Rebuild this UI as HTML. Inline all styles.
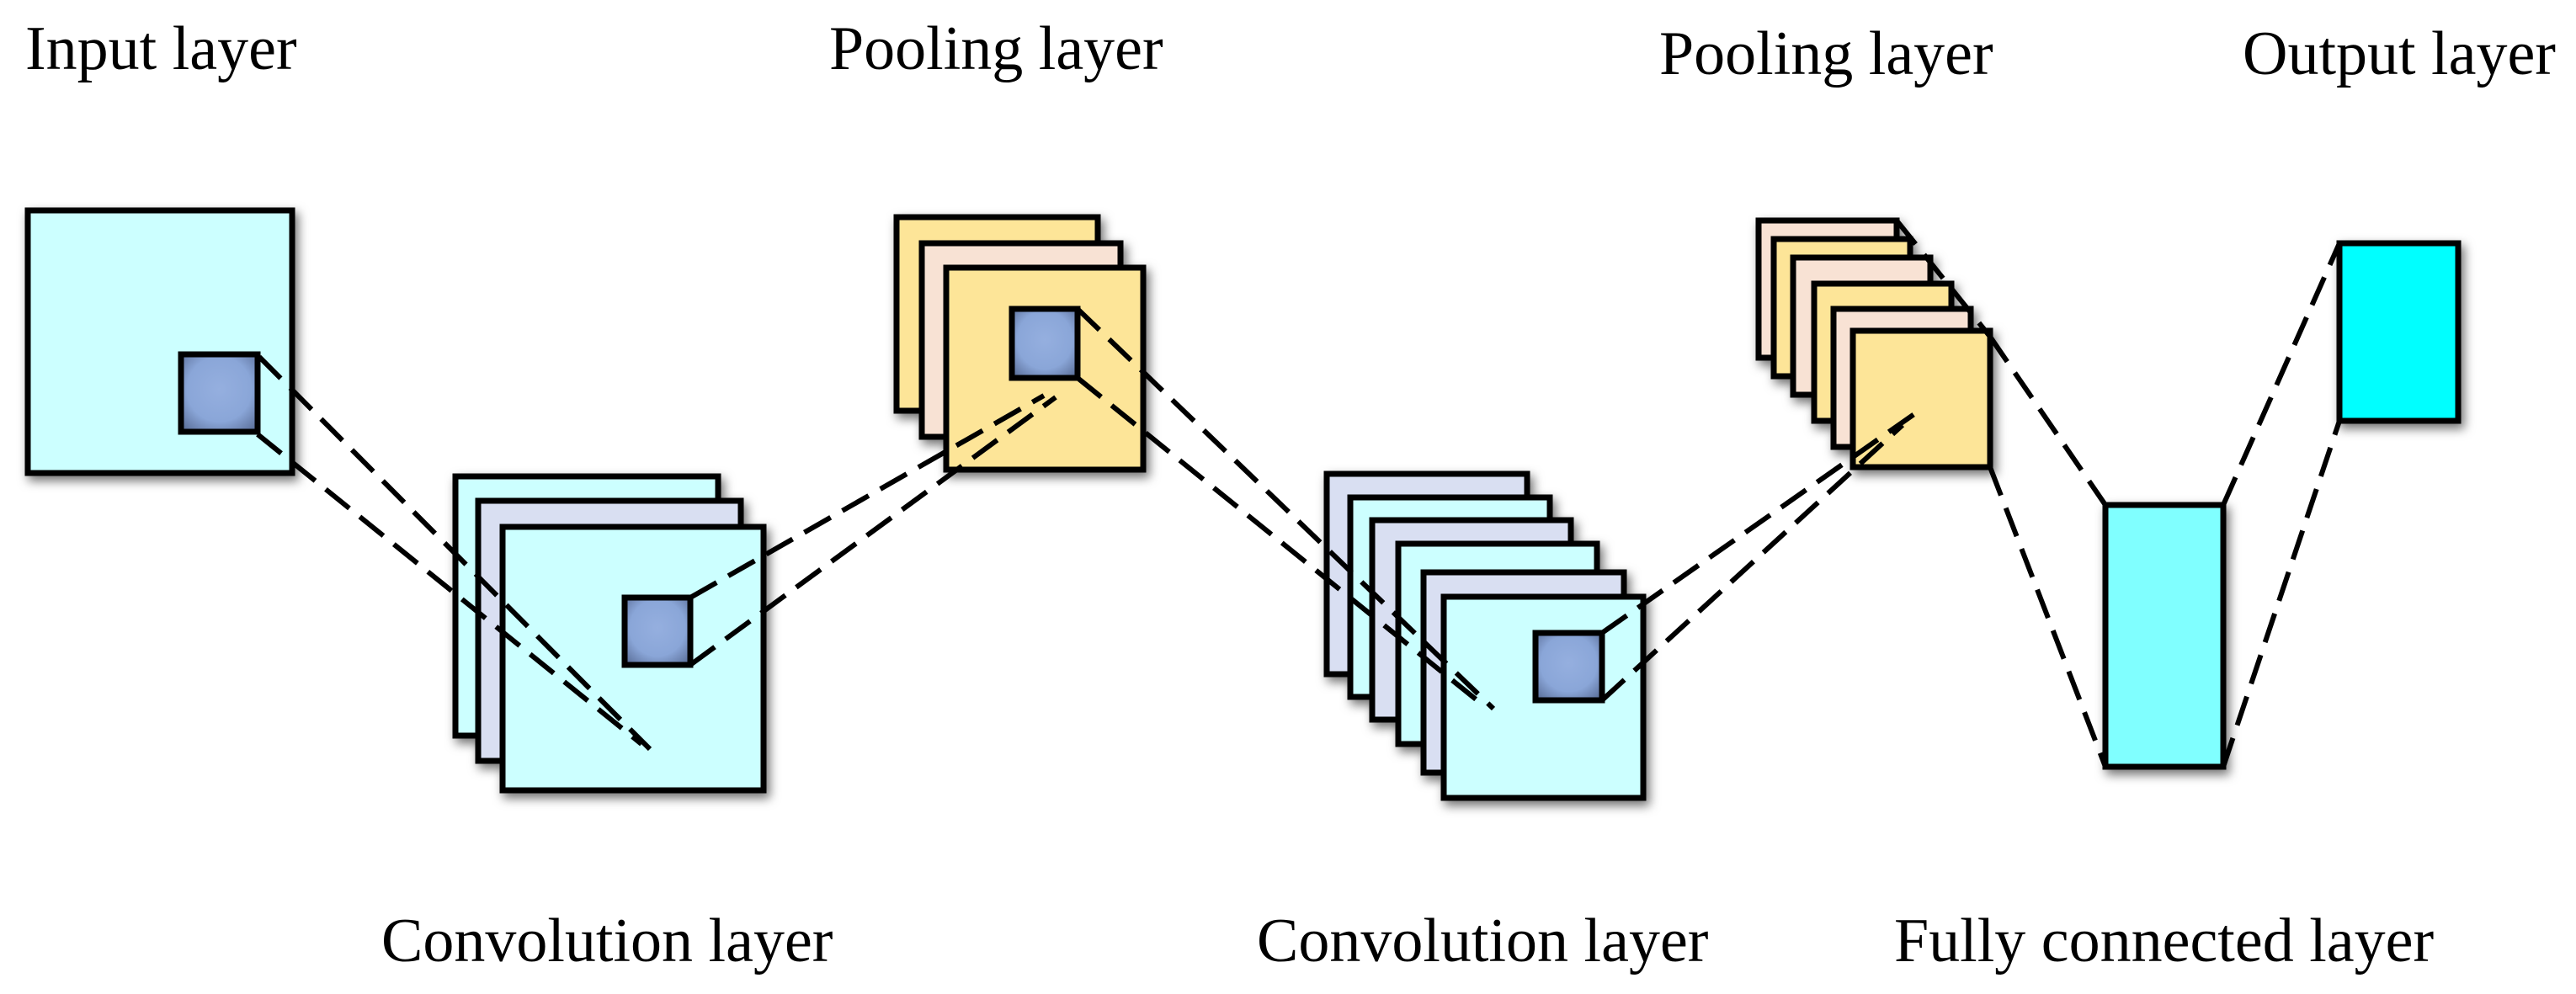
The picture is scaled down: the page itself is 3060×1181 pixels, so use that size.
<!DOCTYPE html>
<html><head><meta charset="utf-8"><style>
html,body{margin:0;padding:0;background:#fff;}
svg{display:block;}
text{font-family:"Liberation Serif",serif;font-size:74px;fill:#000;}
</style></head><body>
<svg width="3060" height="1181" viewBox="0 0 3060 1181" xmlns="http://www.w3.org/2000/svg">
<defs>
<filter id="sh" x="-20%" y="-20%" width="140%" height="140%">
<feDropShadow dx="4" dy="6" stdDeviation="6" flood-color="#000" flood-opacity="0.55"/>
</filter>
<radialGradient id="sq" cx="50%" cy="45%" r="70%">
<stop offset="0" stop-color="#95afdf"/><stop offset="0.6" stop-color="#8aa6d8"/><stop offset="1" stop-color="#5a6e98"/>
</radialGradient>
</defs>
<g stroke="#000" stroke-width="7" filter="url(#sh)">
<rect x="33" y="250" width="314" height="312" fill="#ccffff"/>
<rect x="215" y="421" width="91" height="92" fill="url(#sq)"/>
<rect x="541" y="566" width="312" height="308" fill="#ccffff"/>
<rect x="568" y="595" width="312" height="309" fill="#d9dff2"/>
<rect x="597" y="626" width="310" height="313" fill="#ccffff"/>
<rect x="742" y="710" width="78" height="80" fill="url(#sq)"/>
<rect x="1065" y="258" width="239" height="230" fill="#fde598"/>
<rect x="1095" y="289" width="236" height="230" fill="#f8e2d4"/>
<rect x="1124" y="318" width="234" height="240" fill="#fde598"/>
<rect x="1202" y="367" width="78" height="82" fill="url(#sq)"/>
<rect x="1576" y="563" width="238" height="238" fill="#d9dff2"/>
<rect x="1604" y="591" width="237" height="237" fill="#ccffff"/>
<rect x="1630" y="618" width="236" height="237" fill="#d9dff2"/>
<rect x="1661" y="646" width="236" height="238" fill="#ccffff"/>
<rect x="1691" y="680" width="238" height="238" fill="#d9dff2"/>
<rect x="1715" y="709" width="237" height="239" fill="#ccffff"/>
<rect x="1824" y="752" width="79" height="80" fill="url(#sq)"/>
<rect x="2089" y="262" width="164" height="163" fill="#f8e2d4"/>
<rect x="2107" y="284" width="162" height="163" fill="#fde598"/>
<rect x="2130" y="306" width="163" height="163" fill="#f8e2d4"/>
<rect x="2155" y="337" width="163" height="163" fill="#fde598"/>
<rect x="2178" y="367" width="163" height="164" fill="#f8e2d4"/>
<rect x="2201" y="393" width="163" height="162" fill="#fde598"/>
<rect x="2501" y="600" width="140" height="311" fill="#80ffff"/>
<rect x="2779" y="289" width="141" height="211" fill="#00ffff"/>
</g>
<g stroke="#000" stroke-width="6" stroke-dasharray="36 16" fill="none">
<line x1="308" y1="424" x2="772" y2="890"/>
<line x1="306" y1="516" x2="762" y2="884"/>
<line x1="820" y1="710" x2="1240" y2="470"/>
<line x1="820" y1="790" x2="1254" y2="472"/>
<line x1="1280" y1="367" x2="1774" y2="842"/>
<line x1="1280" y1="449" x2="1762" y2="838"/>
<line x1="1903" y1="752" x2="2281" y2="487"/>
<line x1="1903" y1="832" x2="2260" y2="505"/>
<line x1="2253" y1="262" x2="2364" y2="400"/>
<line x1="2364" y1="400" x2="2501" y2="600"/>
<line x1="2364" y1="555" x2="2501" y2="911"/>
<line x1="2641" y1="600" x2="2779" y2="289"/>
<line x1="2641" y1="911" x2="2779" y2="500"/>
</g>
<text x="30" y="82">Input layer</text>
<text x="985" y="82">Pooling layer</text>
<text x="1971" y="88">Pooling layer</text>
<text x="2664" y="88">Output layer</text>
<text x="453" y="1142">Convolution layer</text>
<text x="1493" y="1142">Convolution layer</text>
<text x="2250" y="1142">Fully connected layer</text>
</svg>
</body></html>
